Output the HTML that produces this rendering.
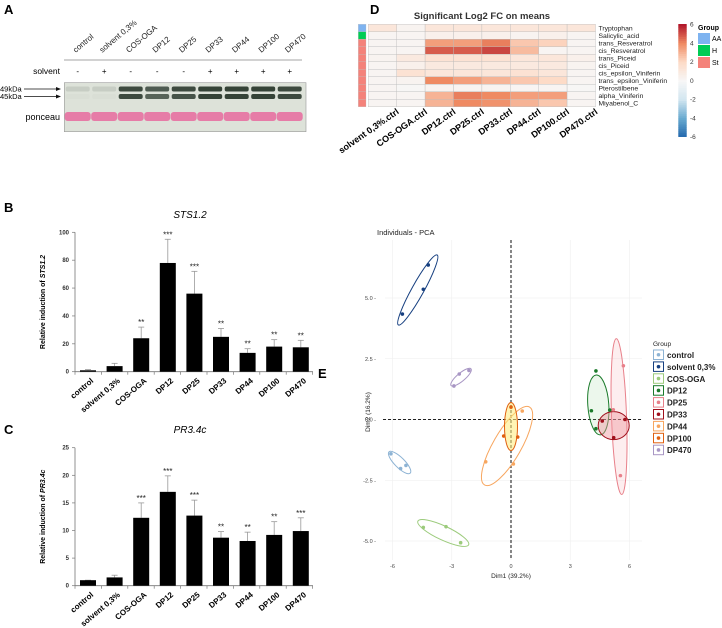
<!DOCTYPE html>
<html><head><meta charset="utf-8"><style>
html,body{margin:0;padding:0;background:#fff}
svg{display:block;font-family:"Liberation Sans",sans-serif}
</style></head><body>
<svg id="fig" width="722" height="628" viewBox="0 0 722 628" xmlns="http://www.w3.org/2000/svg">
<g id="panelA"></g>
<g id="panelB"></g>
<g id="panelC"></g>
<g id="panelD"></g>
<g id="panelE"></g>
</svg>
<script>
const NS="http://www.w3.org/2000/svg";
// ---- data ----
const lanes=["control","solvent 0,3%","COS-OGA","DP12","DP25","DP33","DP44","DP100","DP470"];
const solventSigns=["-","+","-","-","-","+","+","+","+"];
const band49=[0.12,0.12,0.9,0.8,0.9,0.95,0.95,0.95,0.9];
const band45=[0.02,0.02,0.9,0.75,0.85,0.95,0.95,0.95,0.9];
const bCats=["control","solvent 0,3%","COS-OGA","DP12","DP25","DP33","DP44","DP100","DP470"];
const bValues=[1,4,24,78,56,25,13.5,18,17.5];
const bErrors=[0.5,2,8,17,16,6,3,5,5];
const bStars=["","","**","***","***","**","**","**","**"];
const bTicks=[0,20,40,60,80,100];
const cValues=[1,1.5,12.3,17,12.7,8.7,8.1,9.2,9.9];
const cErrors=[0,0.4,2.7,2.9,2.8,1.1,1.6,2.4,2.4];
const cStars=["","","***","***","***","**","**","**","***"];
const cTicks=[0,5,10,15,20,25];
const hmCols=["solvent 0,3%.ctrl","COS-OGA.ctrl","DP12.ctrl","DP25.ctrl","DP33.ctrl","DP44.ctrl","DP100.ctrl","DP470.ctrl"];
const hmRows=["Tryptophan","Salicylic_acid","trans_Resveratrol","cis_Resveratrol","trans_Piceid","cis_Piceid","cis_epsilon_Viniferin","trans_epsilon_Viniferin","Pterostilbene","alpha_Viniferin","Miyabenol_C"];
const hmRowGroups=["AA","H","St","St","St","St","St","St","St","St","St"];
const hmValues=[
[1.2,0.3,1.2,1.2,1.2,1.2,1.2,1.2],
[0.2,0.2,0.5,0.5,0.5,0.3,0.5,0.2],
[0.2,0.2,3.5,3.5,4.2,2.5,2.2,0.2],
[0.2,0.2,4.8,4.8,5.2,2.8,0.2,0.2],
[0.3,1,1.5,1.5,1.5,1.2,1.2,0.5],
[0.2,0.5,1,1,1,1,1,0.3],
[0.2,1.5,1.2,1.2,1.2,1.5,1.2,0.2],
[0.2,0.3,4,3.5,3,2.5,2,0.2],
[0.2,0.1,0.3,0.3,0.3,0.2,0.2,0.1],
[0.2,0.2,3,4.2,4,3.5,3.5,0.2],
[0.2,0.2,3,4,3.8,3,2.5,0.2]];
const hmScaleTicks=[6,4,2,0,-2,-4,-6];
const groupNames=["AA","H","St"];
const pcaGroups=["control","solvent 0,3%","COS-OGA","DP12","DP25","DP33","DP44","DP100","DP470"];
const pcaX=[[-6.08,-5.59,-5.32],[-4.19,-4.44,-5.5],[-4.44,-3.29,-2.55],[4.3,4.07,4.3,5.0],[5.69,5.18,5.54],[4.62,5.2,5.77],[0.57,-1.28,0.12],[0,-0.37,0.34],[-2.62,-2.89,-2.13]];
const pcaY=[[-1.41,-2.02,-1.89],[6.36,5.36,4.34],[-4.44,-4.41,-5.07],[2.0,0.36,-0.38,0.39],[2.21,0.4,-2.31],[-0.06,-0.75,0],[0.35,-1.74,-1.83],[0.51,-0.68,-0.72],[1.87,1.38,2.02]];
const ellCx=[-5.64,-4.72,-3.43,4.42,5.47,5.2,-0.2,0,-2.53];
const ellCy=[-1.77,5.33,-4.67,0.6,0.12,-0.25,-1.09,-0.29,1.74];
const pcaXTicks=[-6,-3,0,3,6];
const pcaYTicks=[5,2.5,0,-2.5,-5];
// ---- style (not data) ----
const ellSpec=[[15,5,45],[40,6,-61],[28,7,25],[10.5,30,-4],[7.5,78,-2],[15.5,14,0],[45,14,-60],[6.5,24,0],[13,4,-40]];
const colors=["#8DB3D4","#163F80","#9CCB7C","#1A7A2A","#E8808A","#A0101C","#F7A65F","#E06010","#A896C4"];
const fills=["none","none","none","rgba(150,210,150,0.18)","rgba(240,140,150,0.15)","rgba(240,150,160,0.45)","none","rgba(255,235,120,0.55)","none"];
const groupCols={AA:"#7EB3F0",H:"#00CC55",St:"#F4827A"};

function mk(parent,tag,attrs,text){const e=document.createElementNS(NS,tag);for(const k in attrs)e.setAttribute(k,attrs[k]);if(text!=null)e.textContent=text;parent.appendChild(e);return e;}

// ---- Panel A ----
(function(){
const g=document.getElementById('panelA');
const t=mk(g,'text',{x:4,y:14,'font-size':13,'font-weight':'bold'},'A');

const lx=i=>77.7+i*26.5;
lanes.forEach((l,i)=>{
 const e=mk(g,'text',{x:lx(i)-2,y:53,'font-size':8,fill:'#222',transform:`rotate(-40 ${lx(i)-2} 53)`},l);
 
 const s=mk(g,'text',{x:lx(i),y:74,'font-size':8,'text-anchor':'middle'},solventSigns[i]);
 
});
mk(g,'line',{x1:64,x2:302,y1:60,y2:60,stroke:'#888','stroke-width':0.8});
const sl=mk(g,'text',{x:60,y:74,'font-size':8.5,'text-anchor':'end'},'solvent');

const blot=mk(g,'rect',{x:64.3,y:82.7,width:241.7,height:49,fill:'#DDE2D9',stroke:'#999','stroke-width':0.6});

lanes.forEach((l,i)=>{
 const b1=mk(g,'rect',{x:lx(i)-12,y:86.5,width:24,height:5,rx:2,fill:'#2B3A2E','fill-opacity':band49[i]});
 
 const b2=mk(g,'rect',{x:lx(i)-12,y:94,width:24,height:5,rx:2,fill:'#2B3A2E','fill-opacity':band45[i]});
 
 const p=mk(g,'rect',{x:lx(i)-13,y:112,width:26,height:9,rx:3,fill:'#E86A9E','fill-opacity':0.85});
 
});
[['49kDa',89],['45kDa',96.5]].forEach(([s,y])=>{
 const e=mk(g,'text',{x:0,y:y+2.5,'font-size':7.5},s);
 mk(g,'line',{x1:24,x2:56,y1:y,y2:y,stroke:'#111','stroke-width':0.7});
 mk(g,'path',{d:`M56 ${y-2}L61 ${y}L56 ${y+2}Z`,fill:'#111'});
});
const pl=mk(g,'text',{x:60,y:120,'font-size':9,'text-anchor':'end'},'ponceau');

})();

// ---- Bar charts ----
function barChart(id,letter,letterY,title,titleY,values,errors,stars,ticks,yMax,y0,yTop,ylab){
 const g=document.getElementById(id);
 const L=mk(g,'text',{x:4,y:letterY,'font-size':13,'font-weight':'bold'},letter);
 
 const T=mk(g,'text',{x:190,y:titleY,'font-size':10,'font-style':'italic','text-anchor':'middle'},title);
 
 const ax=75,xEnd=313;
 const ys=v=>y0-(v/yMax)*(y0-yTop);
 const xs=i=>88+i*26.6;
 mk(g,'line',{x1:ax,x2:ax,y1:yTop,y2:y0,stroke:'#777','stroke-width':0.8});
 mk(g,'line',{x1:ax,x2:xEnd,y1:y0,y2:y0,stroke:'#777','stroke-width':0.8});
 ticks.forEach(t=>{
  mk(g,'line',{x1:ax-3,x2:ax,y1:ys(t),y2:ys(t),stroke:'#777','stroke-width':0.7});
  const e=mk(g,'text',{x:ax-6,y:ys(t)+2,'font-size':6,'font-weight':'bold','text-anchor':'end',fill:'#333'},t);
  
 });
 for(let i=0;i<=values.length;i++){const x=ax+i*26.4;mk(g,'line',{x1:x,x2:x,y1:y0,y2:y0+3,stroke:'#777','stroke-width':0.7});}
 values.forEach((v,i)=>{
  const x=xs(i);
  const top=ys(v+errors[i]);
  mk(g,'line',{x1:x,x2:x,y1:top,y2:ys(v),stroke:'#999','stroke-width':0.8});
  mk(g,'line',{x1:x-3,x2:x+3,y1:top,y2:top,stroke:'#999','stroke-width':0.8});
  const r=mk(g,'rect',{x:x-8,y:ys(v),width:16,height:y0-ys(v),fill:'#000'});
  
  if(stars[i]){const s=mk(g,'text',{x:x,y:top-2,'font-size':8,'text-anchor':'middle',fill:'#222'},stars[i]);
   }
  const lab=mk(g,'text',{x:x+6,y:y0+10,'font-size':8,'font-weight':'bold','text-anchor':'end',transform:`rotate(-40 ${x+6} ${y0+10})`},bCats[i]);
  
 });
 const yl=(yTop+y0)/2;
 const Y=mk(g,'text',{x:45,y:yl,'font-size':7,'font-weight':'bold','text-anchor':'middle',transform:`rotate(-90 45 ${yl})`});
 
 mk(Y,'tspan',{},'Relative induction of ');mk(Y,'tspan',{'font-style':'italic'},ylab);
}
barChart('panelB','B',212,'STS1.2',218,bValues,bErrors,bStars,bTicks,100,371.7,232.3,'STS1.2');
barChart('panelC','C',434,'PR3.4c',433,cValues,cErrors,cStars,cTicks,25,585.7,447.7,'PR3.4c');

// ---- Panel D heatmap ----
(function(){
const g=document.getElementById('panelD');
const L=mk(g,'text',{x:370,y:14,'font-size':13,'font-weight':'bold'},'D');

const T=mk(g,'text',{x:482,y:19,'font-size':9.5,'font-weight':'bold','text-anchor':'middle',fill:'#333'},'Significant Log2 FC on means');

const x0=368.3,cw=28.4,y0=24.3,rh=7.5;
const stops=[[-6,[33,102,172]],[-4,[103,169,207]],[-2,[209,229,240]],[0,[247,247,247]],[2,[253,219,199]],[4,[239,138,98]],[6,[178,24,43]]];
function col(v){v=Math.max(-6,Math.min(6,v));for(let i=0;i<stops.length-1;i++){const[a,ca]=stops[i],[b,cb]=stops[i+1];if(v<=b){const t=(v-a)/(b-a);return`rgb(${ca.map((c,k)=>Math.round(c+(cb[k]-c)*t)).join(',')})`;}}}
hmValues.forEach((row,r)=>{
 const gb=mk(g,'rect',{x:358.3,y:y0+r*rh,width:7.7,height:rh,fill:groupCols[hmRowGroups[r]],stroke:'#bbb','stroke-width':0.3});
 
 row.forEach((v,c)=>{
  const e=mk(g,'rect',{x:x0+c*cw,y:y0+r*rh,width:cw,height:rh,fill:col(v),stroke:'#bbb','stroke-width':0.4});
  
 });
 const t=mk(g,'text',{x:x0+8*cw+3,y:y0+r*rh+6,'font-size':6.8,fill:'#222'},hmRows[r]);
 
});
hmCols.forEach((c,i)=>{
 const cx=x0+(i+0.5)*cw+17,cy=113;
 const t=mk(g,'text',{x:cx,y:cy,'font-size':9,'font-weight':'bold','text-anchor':'end',transform:`rotate(-35 ${cx} ${cy})`},c);
 
});
const by0=24,by1=136.7;
for(let k=0;k<60;k++){const v=6-12*k/60;mk(g,'rect',{x:678.3,y:by0+(by1-by0)*k/60,width:8.4,height:(by1-by0)/60+0.3,fill:col(v)});}
hmScaleTicks.forEach(t=>{const y=by0+(6-t)/12*(by1-by0);
 const e=mk(g,'text',{x:690,y:y+2.5,'font-size':6.5,fill:'#333'},t);});
const gt=mk(g,'text',{x:698,y:30,'font-size':7,'font-weight':'bold'},'Group');

groupNames.forEach((n,i)=>{
 const y=33+i*12;
 const r=mk(g,'rect',{x:698,y:y,width:12,height:11,fill:groupCols[n]});
 const t=mk(g,'text',{x:712,y:y+8,'font-size':7},n);
});
})();

// ---- Panel E PCA ----
(function(){
const g=document.getElementById('panelE');
const L=mk(g,'text',{x:318,y:378,'font-size':13,'font-weight':'bold'},'E');

const xs=v=>511+v*19.75, ys=v=>419.5-v*24.3;
const T=mk(g,'text',{x:377,y:235,'font-size':7.5,fill:'#222'},'Individuals - PCA');

pcaXTicks.forEach(t=>{mk(g,'line',{x1:xs(t),x2:xs(t),y1:240,y2:560,stroke:'#eee','stroke-width':0.6});
 const e=mk(g,'text',{x:xs(t),y:568,'font-size':5.5,'text-anchor':'middle',fill:'#444'},t);});
pcaYTicks.forEach(t=>{mk(g,'line',{x1:385,x2:642,y1:ys(t),y2:ys(t),stroke:'#eee','stroke-width':0.6});
 const e=mk(g,'text',{x:376,y:ys(t)+2,'font-size':5.5,'text-anchor':'end',fill:'#444'},t.toFixed(1)+' -');});
mk(g,'line',{x1:xs(0),x2:xs(0),y1:240,y2:560,stroke:'#222','stroke-width':1.1,'stroke-dasharray':'3,2'});
mk(g,'line',{x1:383,x2:643,y1:ys(0),y2:ys(0),stroke:'#222','stroke-width':1.1,'stroke-dasharray':'3,2'});
pcaGroups.forEach((grp,i)=>{
 const [a,b,ang]=ellSpec[i];const cx=xs(ellCx[i]),cy=ys(ellCy[i]);
 const e=mk(g,'ellipse',{cx:cx,cy:cy,rx:a,ry:b,transform:`rotate(${ang} ${cx} ${cy})`,fill:fills[i],stroke:colors[i],'stroke-width':1});
 
});
pcaGroups.forEach((grp,i)=>{
 pcaX[i].forEach((x,j)=>{
  const p=mk(g,'circle',{cx:xs(x),cy:ys(pcaY[i][j]),r:1.8,fill:colors[i]});
  
 });
});
const xl=mk(g,'text',{x:511,y:578,'font-size':6.5,'text-anchor':'middle',fill:'#222'},'Dim1 (39.2%)');

const yl=mk(g,'text',{x:370,y:412,'font-size':6.5,'text-anchor':'middle',fill:'#222',transform:'rotate(-90 370 412)'},'Dim2 (16.2%)');

const lt=mk(g,'text',{x:653,y:346,'font-size':6.5,fill:'#222'},'Group');

pcaGroups.forEach((grp,i)=>{
 const y=350+i*11.9;
 const r=mk(g,'rect',{x:653.5,y:y,width:10,height:9.5,fill:'#fff',stroke:colors[i],'stroke-width':1});
 
 mk(g,'circle',{cx:658.5,cy:y+4.75,r:1.8,fill:colors[i]});
 const t=mk(g,'text',{x:667,y:y+8,'font-size':8,'font-weight':'bold',fill:'#222'},grp);
 
});
})();
</script>
</body></html>
